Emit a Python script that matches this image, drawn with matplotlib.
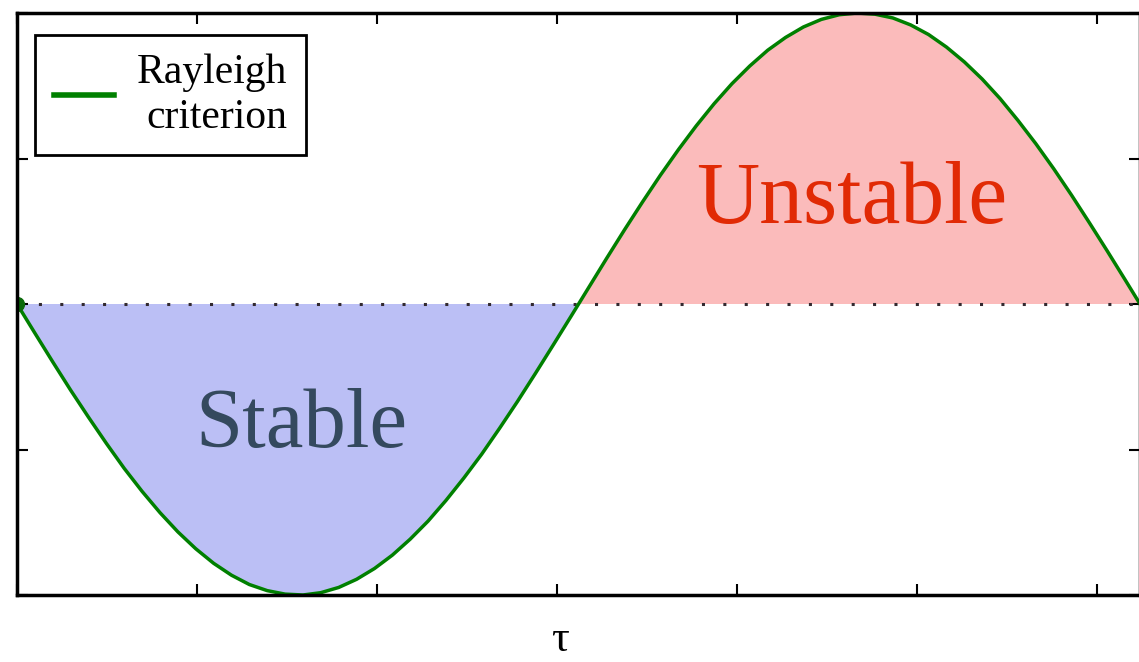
import matplotlib.pyplot as plt

# curve values (tau in radians, criterion value)
tau = [0.0, 0.1, 0.2, 0.3, 0.4, 0.5, 0.6, 0.7, 0.8, 0.9, 1.0, 1.1, 1.2, 1.3, 1.4, 1.5,
       1.6, 1.7, 1.8, 1.9, 2.0, 2.1, 2.2, 2.3, 2.4, 2.5, 2.6, 2.7, 2.8, 2.9, 3.0, 3.1,
       3.2, 3.3, 3.4, 3.5, 3.6, 3.7, 3.8, 3.9, 4.0, 4.1, 4.2, 4.3, 4.4, 4.5, 4.6, 4.7,
       4.8, 4.9, 5.0, 5.1, 5.2, 5.3, 5.4, 5.5, 5.6, 5.7, 5.8, 5.9, 6.0, 6.1, 6.2, 6.283]
rayleigh = [0.000, -0.100, -0.199, -0.296, -0.389, -0.479, -0.565, -0.644, -0.717, -0.783,
            -0.841, -0.891, -0.932, -0.964, -0.985, -0.997, -1.000, -0.992, -0.974, -0.946,
            -0.909, -0.863, -0.808, -0.746, -0.675, -0.598, -0.516, -0.427, -0.335, -0.239,
            -0.141, -0.042, 0.058, 0.158, 0.256, 0.351, 0.443, 0.530, 0.612, 0.688,
            0.757, 0.818, 0.872, 0.916, 0.952, 0.978, 0.994, 1.000, 0.996, 0.983,
            0.959, 0.926, 0.883, 0.832, 0.773, 0.706, 0.631, 0.551, 0.465, 0.374,
            0.279, 0.182, 0.083, 0.000]
zero_line = [0.0] * len(tau)
x_ticks = [0, 1.007, 2.014, 3.021, 4.028, 5.035, 6.042]
y_ticks = [-1, -0.5, 0, 0.5, 1]

W, H = 1139, 662
fig = plt.figure(figsize=(W / 100, H / 100), dpi=100)
# right spine sits on the figure edge (the original is cropped)
ax = fig.add_axes([17 / W, (H - 595) / H, 1123 / W, 582 / H])

ax.fill_between(tau, rayleigh, zero_line, where=[v <= 0 for v in rayleigh],
                interpolate=True, color='#bbbff5', linewidth=0)
ax.fill_between(tau, rayleigh, zero_line, where=[v >= 0 for v in rayleigh],
                interpolate=True, color='#fbbbbb', linewidth=0)
ax.plot(tau, zero_line, linestyle=(0, (1, 6)), color='#332a30', linewidth=2.2)
ax.plot(tau, rayleigh, color='green', linewidth=2.5, label='Rayleigh\ncriterion')
ax.plot([tau[0]], [rayleigh[0]], 'o', color='#0a6a0a', markersize=10)

ax.text(1.594, -0.491, 'Stable', fontsize=61, color='#34495e', family='Liberation Serif',
        ha='center', va='baseline')
ax.text(4.67, 0.278, 'Unstable', fontsize=63, color='#e12a05', family='Liberation Serif',
        ha='center', va='baseline')

ax.set_xlim(0, 6.283)
ax.set_ylim(-1, 1)
ax.set_xticks(x_ticks)
ax.set_yticks(y_ticks)
ax.tick_params(direction='in', length=8, width=1.5, top=True, right=True,
               labelbottom=False, labelleft=False)
for s in ax.spines.values():
    s.set_linewidth(2.5)

leg = ax.legend(loc='upper left', bbox_to_anchor=(18 / 1123, 1 - 22 / 582),
                borderaxespad=0, fancybox=False, edgecolor='black', framealpha=1,
                prop={'family': 'Liberation Serif', 'size': 30},
                handlelength=1.45, handletextpad=0.55, borderpad=0.45)
leg.get_frame().set_linewidth(2)
for h in leg.get_lines():
    h.set_linewidth(4)
for t in leg.get_texts():
    t.set_multialignment('right')

fig.text(560 / W, 1 - 640 / H, 'τ', fontsize=32, family='Liberation Serif',
         ha='center', va='center')

fig.savefig('out.png', dpi=100)
